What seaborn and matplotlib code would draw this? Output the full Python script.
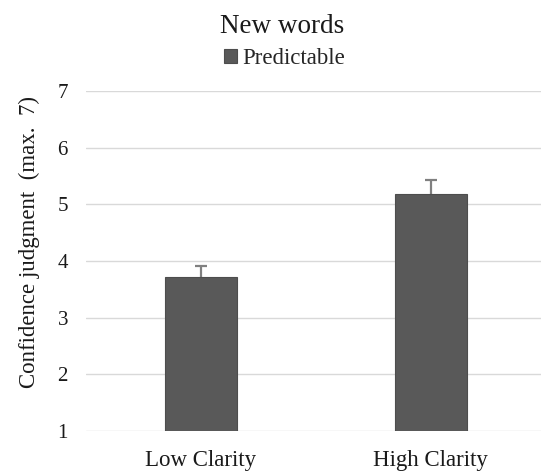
import matplotlib
matplotlib.use("Agg")
import matplotlib.pyplot as plt
import seaborn as sns
import pandas as pd

conditions = ["Low Clarity", "High Clarity"]
means = [3.72, 5.18]
errors = [0.19, 0.25]
series_name = "Predictable"

sns.set_theme(style="white")
plt.rcParams["font.family"] = ["Liberation Serif", "DejaVu Serif"]

df = pd.DataFrame({"Clarity": conditions, "Confidence": means, "Condition": series_name})

fig = plt.figure(figsize=(5.41, 4.71), dpi=100)
ax = fig.add_axes([0.159, 0.0849, 0.85, 0.7219])

bar_color = "#595959"
sns.barplot(data=df, x="Clarity", y="Confidence", hue="Condition",
            palette=[bar_color], width=0.31, errorbar=None, ax=ax,
            edgecolor="#4d4d4d", linewidth=0.8, zorder=3)

# upper error whiskers only
eb = ax.errorbar(x=range(len(conditions)), y=means,
                 yerr=[[0] * len(errors), errors],
                 fmt="none", ecolor="#808080", elinewidth=1.6, capsize=4.5,
                 capthick=1.6, zorder=2)
eb.lines[1][0].set_visible(False)

ax.set_ylim(1, 7)
ax.set_xlim(-0.5, 1.5)
ax.set_yticks(range(1, 8))
ax.yaxis.grid(True, color="#d9d9d9", linewidth=1)
ax.set_axisbelow(True)
for s in ax.spines.values():
    s.set_visible(False)

ax.tick_params(axis="both", length=0, colors="#1a1a1a")
ax.tick_params(axis="x", labelsize=16.5, pad=14)
ax.tick_params(axis="y", labelsize=15, pad=13)
ax.set_xlabel("")
ax.set_ylabel("Confidence judgment  (max.  7)", fontsize=16.5, color="#1a1a1a")
ax.yaxis.label.set_va("center")
ax.yaxis.set_label_coords(-0.124, 0.556)

ax.legend(loc="center", bbox_to_anchor=(0.526, 0.876),
          bbox_transform=fig.transFigure, frameon=False, fontsize=16.5,
          handlelength=0.55, handleheight=0.55, handletextpad=0.25)
fig.text(0.522, 0.930, "New words", ha="center", va="baseline", fontsize=19.5, color="#1a1a1a")

fig.savefig("out.png", dpi=100, facecolor="white")
